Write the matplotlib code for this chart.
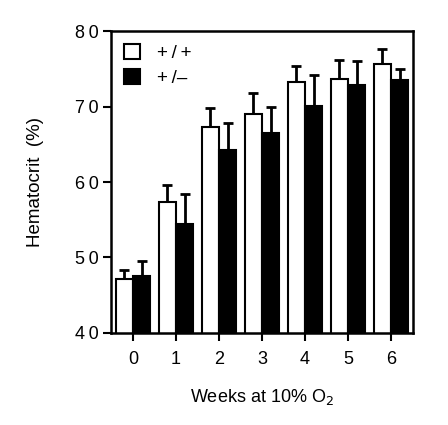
import matplotlib
matplotlib.use("Agg")
import matplotlib.pyplot as plt
import numpy as np

weeks = ["0", "1", "2", "3", "4", "5", "6"]
wt_mean = [47.2, 57.4, 67.3, 69.0, 73.2, 73.6, 75.6]
wt_err = [1.2, 2.2, 2.5, 2.8, 2.2, 2.6, 2.0]
het_mean = [47.6, 54.4, 64.2, 66.5, 70.1, 72.9, 73.5]
het_err = [2.0, 4.0, 3.6, 3.5, 4.1, 3.1, 1.5]
labels = ["+\u2009/\u2009+", "+\u2009/\u2013"]
yticks = [40, 50, 60, 70, 80]

plt.rcParams['font.family'] = ['Liberation Sans', 'DejaVu Sans']
fig = plt.figure(figsize=(4.48, 4.25), dpi=100)
ax = fig.add_axes([0.2478, 0.2165, 0.6741, 0.7105])

x = np.arange(len(weeks))
w = 0.405
ax.bar(x - w/2, wt_mean, w, color='white', edgecolor='black', linewidth=1.5, label=labels[0], zorder=2)
ax.bar(x + w/2, het_mean, w, color='black', edgecolor='black', linewidth=1.5, label=labels[1], zorder=2)
ax.errorbar(x - w/2, wt_mean, yerr=[np.zeros(len(x)), wt_err], fmt='none', ecolor='black',
            elinewidth=2, capsize=3.5, capthick=2, zorder=1)
ax.errorbar(x + w/2, het_mean, yerr=[np.zeros(len(x)), het_err], fmt='none', ecolor='black',
            elinewidth=2, capsize=3.5, capthick=2, zorder=1)

ax.set_xlim(-0.51, 6.51)
ax.set_ylim(40, 80)
ax.set_yticks(yticks)
ax.set_yticklabels(["\u2009".join(str(t)) for t in yticks])
ax.set_xticks(x)
ax.set_xticklabels(weeks)
ax.tick_params(axis='both', direction='out', length=6, width=1.5, labelsize=13)
ax.tick_params(axis='y', pad=3)
ax.tick_params(axis='x', pad=7)
for s in ax.spines.values():
    s.set_linewidth(1.8)

ax.set_ylabel("Hematocrit  (%)", fontsize=13.5, labelpad=22)
ax.set_xlabel("Weeks at 10% O$_2$", fontsize=13, labelpad=14)

leg = ax.legend(loc='upper left', frameon=False, fontsize=13.5, handlelength=0.85, handleheight=0.85,
                borderaxespad=0.3, handletextpad=0.9, labelspacing=0.35)

fig.savefig("out.png", dpi=100)
